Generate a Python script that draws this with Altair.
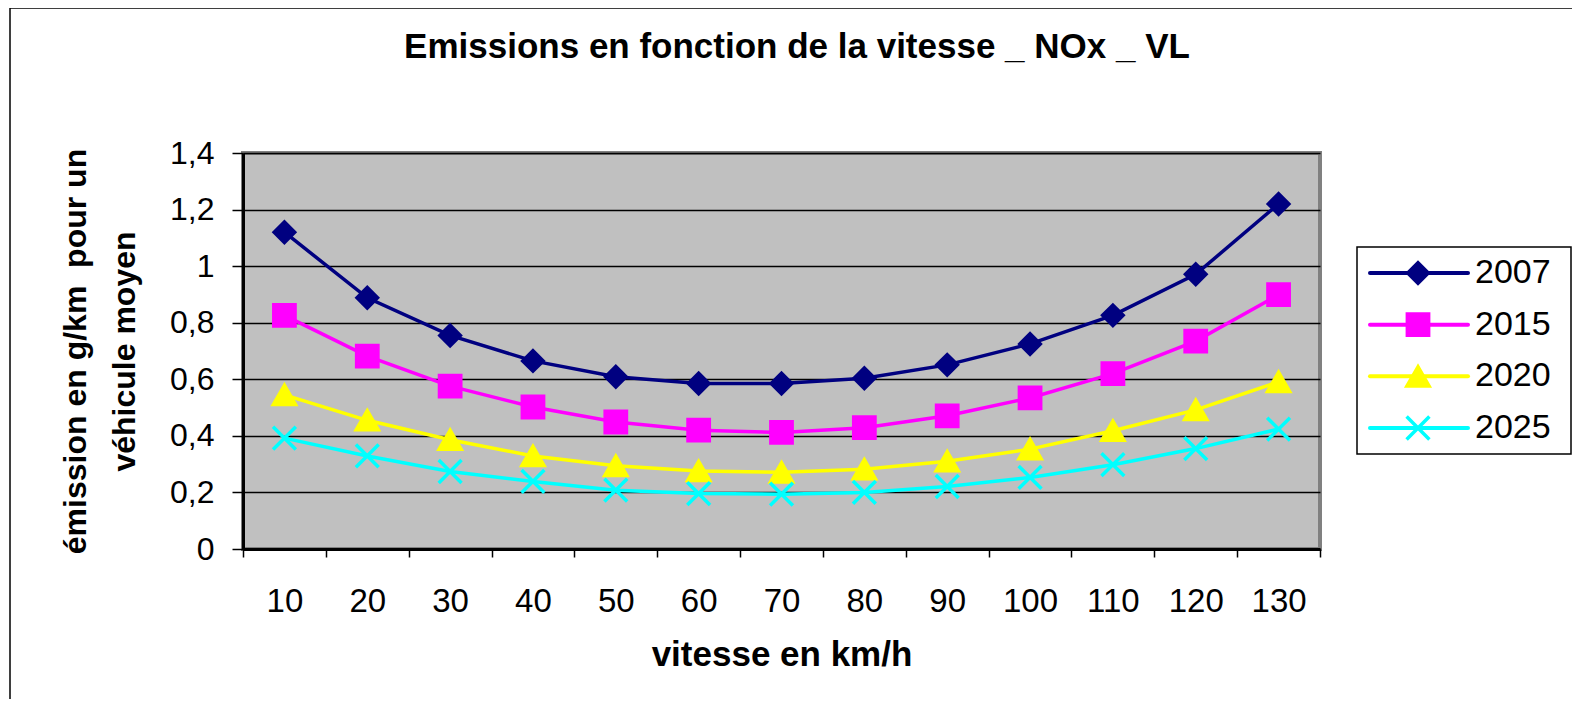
import altair as alt
import pandas as pd

speeds = [10, 20, 30, 40, 50, 60, 70, 80, 90, 100, 110, 120, 130]
years = ["2007", "2015", "2020", "2025"]
nox_2007 = [1.12, 0.888, 0.755, 0.665, 0.609, 0.585, 0.585, 0.604, 0.651, 0.725, 0.826, 0.971, 1.22]
nox_2015 = [0.826, 0.682, 0.576, 0.502, 0.449, 0.42, 0.412, 0.429, 0.471, 0.534, 0.62, 0.735, 0.899]
nox_2020 = [0.545, 0.455, 0.386, 0.329, 0.294, 0.276, 0.271, 0.282, 0.31, 0.353, 0.418, 0.492, 0.591]
nox_2025 = [0.392, 0.329, 0.274, 0.239, 0.208, 0.196, 0.194, 0.2, 0.221, 0.253, 0.298, 0.355, 0.424]
colors = ["#000080", "#FF00FF", "#FFFF00", "#00FFFF"]
shapes = ["diamond", "square", "triangle-up", "M-1,-1L1,1M-1,1L1,-1"]
y_ticks = [0, 0.2, 0.4, 0.6, 0.8, 1.0, 1.2, 1.4]
title_text = "Emissions en fonction de la vitesse _ NOx _ VL"

series = {"2007": nox_2007, "2015": nox_2015, "2020": nox_2020, "2025": nox_2025}
rows = []
for yr, vals in series.items():
    for s, v in zip(speeds, vals):
        rows.append({"speed": s, "value": v, "year": yr})
df = pd.DataFrame(rows)
leg = pd.DataFrame({"year": years})
one = pd.DataFrame({"a": [0]})
ttl = pd.DataFrame({"t": [title_text]})

FONT = "Liberation Sans"
W, H = 1077, 396

color_scale = alt.Scale(domain=years, range=colors)
shape_scale = alt.Scale(domain=years, range=shapes)
size_scale = alt.Scale(domain=years, range=[420, 520, 470, 560])
x_scale = alt.Scale(type="band", paddingInner=0, paddingOuter=0)

x_enc = alt.X(
    "speed:O",
    bandPosition=0.5,
    scale=x_scale,
    axis=alt.Axis(
        title="vitesse en km/h", labelAngle=0, tickBand="extent", grid=False,
        domainColor="black", domainWidth=3, tickColor="black", tickWidth=1.5, tickSize=8,
        labelFont=FONT, labelFontSize=33, labelColor="black", labelPadding=28,
        titleFont=FONT, titleFontSize=35, titleFontWeight="bold", titleColor="black", titlePadding=19,
    ),
)
y_scale = alt.Scale(domain=[0, 1.4], nice=False, zero=True)
y_axis = alt.Axis(
    values=y_ticks, grid=True, gridColor="black", gridWidth=1.5,
    labelExpr="replace(format(datum.value, '.1~f'), '.', ',')",
    domainColor="black", domainWidth=3, tickColor="black", tickWidth=1.5, tickSize=11,
    labelFont=FONT, labelFontSize=32, labelColor="black", labelPadding=18,
    title=["émission en g/km\u00a0 pour un", "véhicule moyen"],
    titleFont=FONT, titleFontSize=32, titleFontWeight="bold", titleColor="black",
    titleLineHeight=49, titleAngle=-90, titleBaseline="bottom", titleAlign="center",
    titleX=-151, titleY=198,
)
y_enc = alt.Y("value:Q", scale=y_scale, axis=y_axis)

frame = alt.Chart(one).mark_rect(fillOpacity=0, stroke="black", strokeWidth=1.5, clip=False).encode(
    x=alt.value(-233), x2=alt.value(1500), y=alt.value(-145), y2=alt.value(800)
)
title_mark = alt.Chart(ttl).mark_text(
    align="center", baseline="alphabetic", font=FONT, fontSize=35, fontWeight="bold", color="black", clip=False
).encode(x=alt.value(554), y=alt.value(-95), text="t:N")

lines = alt.Chart(df).mark_line(strokeWidth=3.5).encode(
    x=x_enc, y=y_enc,
    color=alt.Color("year:N", scale=color_scale, legend=None),
)
points = alt.Chart(df).mark_point(filled=True, opacity=1, strokeWidth=3.5).encode(
    x=x_enc, y=y_enc,
    fill=alt.Fill("year:N", scale=color_scale, legend=None),
    stroke=alt.Stroke("year:N", scale=color_scale, legend=None),
    shape=alt.Shape("year:N", scale=shape_scale, legend=None),
    size=alt.Size("year:N", scale=size_scale, legend=None),
)
main = alt.layer(lines, points)

leg_y = alt.Y("year:N", scale=alt.Scale(type="point", domain=years, range=[120, 275], padding=0), axis=None)
box = alt.Chart(one).mark_rect(fill="white", stroke="black", strokeWidth=1.5, clip=False).encode(
    x=alt.value(1114), x2=alt.value(1328), y=alt.value(94), y2=alt.value(301)
)
leg_lines = alt.Chart(leg).mark_rule(strokeWidth=4, strokeCap="round", clip=False).encode(
    x=alt.value(1127), x2=alt.value(1225), y=leg_y,
    color=alt.Color("year:N", scale=color_scale, legend=None),
)
leg_pts = alt.Chart(leg).mark_point(filled=True, opacity=1, strokeWidth=3.5, clip=False).encode(
    x=alt.value(1175), y=leg_y,
    fill=alt.Fill("year:N", scale=color_scale, legend=None),
    stroke=alt.Stroke("year:N", scale=color_scale, legend=None),
    shape=alt.Shape("year:N", scale=shape_scale, legend=None),
    size=alt.Size("year:N", scale=size_scale, legend=None),
)
leg_txt = alt.Chart(leg).mark_text(align="left", baseline="middle", font=FONT, fontSize=34, color="black", clip=False).encode(
    x=alt.value(1232), y=leg_y, text="year:N"
)
legend = alt.layer(leg_lines, leg_pts, leg_txt)

chart = alt.layer(frame, title_mark, main, box, legend).resolve_scale(y="independent").properties(
    width=W, height=H,
    background="white",
    autosize=alt.AutoSizeParams(type="none"),
    padding={"left": 235, "top": 145, "right": 252, "bottom": 150},
).configure_view(
    fill="#C0C0C0", stroke="#808080", strokeWidth=4
)

chart.save("out.html", embed_options={"renderer": "svg", "actions": False})
